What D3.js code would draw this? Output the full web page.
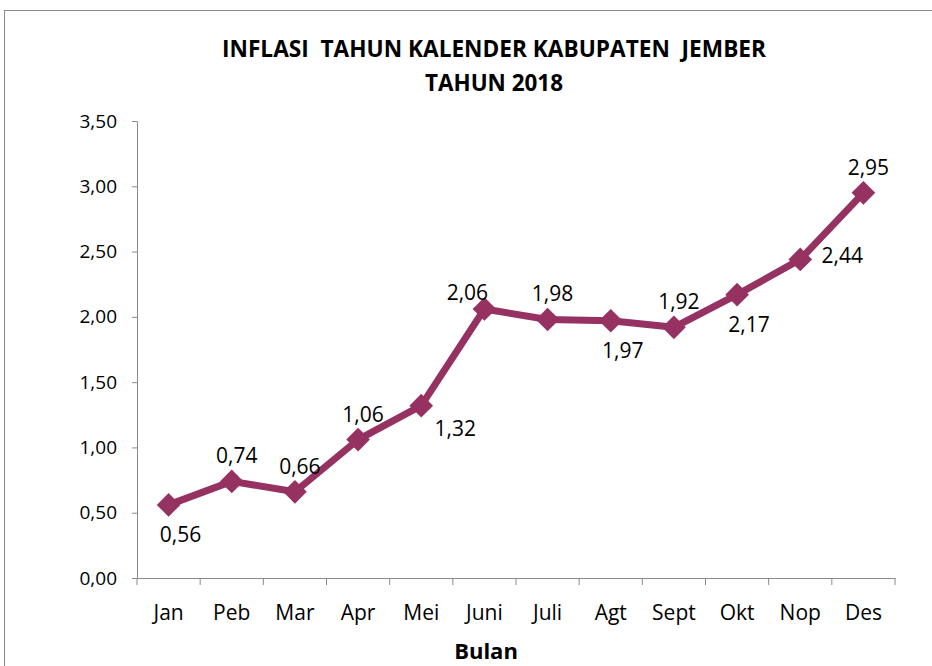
<!DOCTYPE html>
<html>
<head>
<meta charset="utf-8">
<script src="https://cdn.jsdelivr.net/npm/d3@7"></script>
<style>
  body { margin: 0; background: #fff; }
  svg text { font-family: "Open Sans", sans-serif; fill: #000; }
</style>
</head>
<body>
<div id="chart"></div>
<script>
const months = ["Jan", "Peb", "Mar", "Apr", "Mei", "Juni", "Juli", "Agt", "Sept", "Okt", "Nop", "Des"];
const inflation = [0.56, 0.74, 0.66, 1.06, 1.32, 2.06, 1.98, 1.97, 1.92, 2.17, 2.44, 2.95];
const yTicks = [0, 0.5, 1, 1.5, 2, 2.5, 3, 3.5];
// where each data label sits relative to its marker
const labelPlace = ["below", "above", "above", "above", "right-below", "above-left",
    "above", "below", "above", "below", "right", "above"];

const width = 932, height = 666;
const margin = { left: 137, right: 37, top: 121, bottom: 88 };
const color = "#953262";

const svg = d3.select("#chart").append("svg")
    .attr("width", width)
    .attr("height", height);

svg.append("rect")
    .attr("x", 4.5).attr("y", 10.5)
    .attr("width", 940).attr("height", 700)
    .attr("fill", "none")
    .attr("stroke", "#8a8a8a");

const x = d3.scaleBand()
    .domain(months)
    .range([margin.left, width - margin.right]);

const y = d3.scaleLinear()
    .domain([0, 3.5])
    .range([height - margin.bottom, margin.top]);

const fmt = v => d3.format(".2f")(v).replace(".", ",");

// y axis
const yAxis = svg.append("g")
    .attr("transform", `translate(${margin.left},0)`)
    .call(d3.axisLeft(y).tickValues(yTicks).tickFormat(fmt).tickSize(5).tickPadding(15));
yAxis.selectAll("text").attr("font-size", 19).attr("fill", "#000").style("font-family", "Open Sans");

// x axis with ticks between categories
const xAxis = svg.append("g")
    .attr("transform", `translate(0,${height - margin.bottom})`)
    .call(d3.axisBottom(x).tickSize(0).tickPadding(27));
xAxis.selectAll("text").attr("font-size", 21).attr("fill", "#000").style("font-family", "Open Sans");
xAxis.selectAll(".bound")
    .data(d3.range(months.length + 1))
    .enter().append("line")
    .attr("x1", i => margin.left + i * x.step())
    .attr("x2", i => margin.left + i * x.step())
    .attr("y1", 0).attr("y2", 7)
    .attr("stroke", "#8a8a8a");

svg.selectAll(".domain").attr("stroke", "#8a8a8a");
svg.selectAll(".tick line").attr("stroke", "#8a8a8a");

const cx = (d, i) => x(months[i]) + x.bandwidth() / 2;

svg.append("path")
    .datum(inflation)
    .attr("fill", "none")
    .attr("stroke", color)
    .attr("stroke-width", 7)
    .attr("stroke-linejoin", "round")
    .attr("d", d3.line().x(cx).y(d => y(d)));

svg.append("g").selectAll("path")
    .data(inflation)
    .enter().append("path")
    .attr("d", d3.symbol(d3.symbolSquare, 280))
    .attr("transform", (d, i) => `translate(${cx(d, i)},${y(d)}) rotate(45)`)
    .attr("fill", color);

const offsets = {
    "below": [12, 37],
    "above": [5, -18],
    "right-below": [34, 30],
    "above-left": [-17, -9],
    "right": [42, 4]
};

svg.append("g").selectAll("text")
    .data(inflation)
    .enter().append("text")
    .attr("x", (d, i) => cx(d, i) + offsets[labelPlace[i]][0])
    .attr("y", (d, i) => y(d) + offsets[labelPlace[i]][1])
    .attr("text-anchor", "middle")
    .attr("font-size", 21)
    .text(fmt);

svg.append("text")
    .attr("x", 494).attr("y", 57)
    .attr("text-anchor", "middle")
    .attr("font-size", 24)
    .attr("font-weight", "bold")
    .attr("textLength", 544)
    .attr("lengthAdjust", "spacingAndGlyphs")
    .attr("xml:space", "preserve")
    .style("white-space", "pre")
    .text("INFLASI  TAHUN KALENDER KABUPATEN  JEMBER");

svg.append("text")
    .attr("x", 494).attr("y", 91)
    .attr("text-anchor", "middle")
    .attr("font-size", 24)
    .attr("font-weight", "bold")
    .attr("textLength", 138)
    .attr("lengthAdjust", "spacingAndGlyphs")
    .text("TAHUN 2018");

svg.append("text")
    .attr("x", 486).attr("y", 659)
    .attr("text-anchor", "middle")
    .attr("font-size", 22)
    .attr("font-weight", "bold")
    .text("Bulan");
</script>
</body>
</html>
